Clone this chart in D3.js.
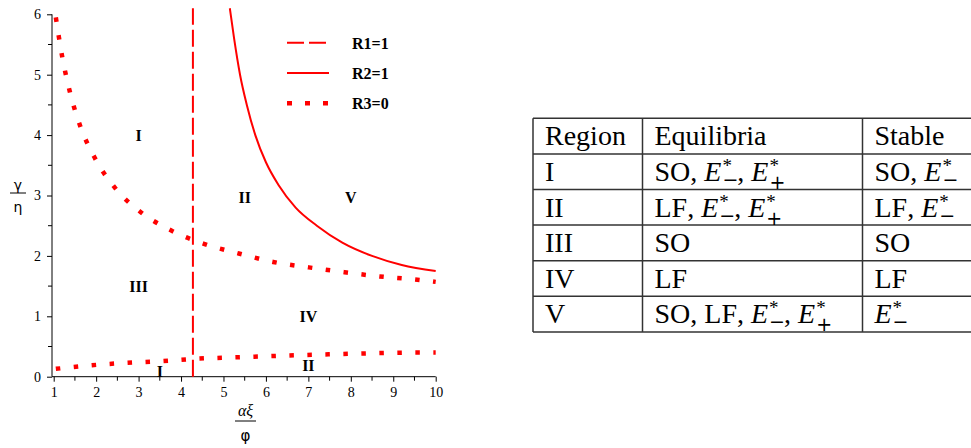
<!DOCTYPE html>
<html>
<head>
<meta charset="utf-8">
<script src="https://cdn.jsdelivr.net/npm/d3@7"></script>
<style>
  body { margin: 0; background: #fff; }
  .region { font-family: "Liberation Serif", serif; font-weight: bold; font-size: 16px; }
  .legend text { font-family: "Liberation Serif", serif; font-weight: bold; font-size: 16px; }
  .cell { font-family: "Liberation Serif", serif; font-size: 28px; white-space: pre; }
</style>
</head>
<body>
<script>
// curves (x = alpha*xi/phi, y = gamma/eta)
const r1X = 4.28;
const r1Y = [0, 6.1];

const r2X = [5.15, 5.25, 5.39, 5.55, 5.75, 6.0, 6.3, 6.7, 7.2, 7.8, 8.5, 9.2, 10];
const r2Y = [6.1, 5.6, 5.0, 4.5, 4.0, 3.55, 3.17, 2.8, 2.5, 2.22, 2.0, 1.85, 1.75];

const r3UpperX = [1.05, 1.2, 1.38, 1.62, 1.97, 2.44, 3.06, 3.77, 4.54, 5.36, 6.17, 7.01, 7.85, 8.68, 9.51, 10];
const r3UpperY = [5.95, 5.3, 4.72, 4.16, 3.62, 3.13, 2.72, 2.42, 2.2, 2.04, 1.9, 1.81, 1.73, 1.66, 1.61, 1.57];

const r3LowerX = [1.05, 1.9, 2.73, 3.58, 4.42, 5.26, 6.1, 6.94, 7.79, 8.63, 9.46, 10];
const r3LowerY = [0.13, 0.19, 0.23, 0.26, 0.30, 0.32, 0.34, 0.36, 0.376, 0.39, 0.40, 0.40];

const legendLabels = ["R1=1", "R2=1", "R3=0"];

// region labels placed in data coordinates
const regionNames = ["I", "II", "V", "III", "IV", "I", "II"];
const regionX = [3.0, 5.5, 8.0, 3.0, 7.0, 3.5, 7.0];
const regionY = [4.0, 2.97, 2.97, 1.5, 1.0, 0.1, 0.2];

// table
const tableHeader = ["Region", "Equilibria", "Stable"];
const tableRegions = ["I", "II", "III", "IV", "V"];
const tableEquilibria = [["SO", "E-", "E+"], ["LF", "E-", "E+"], ["SO"], ["LF"], ["SO", "LF", "E-", "E+"]];
const tableStable = [["SO", "E-"], ["LF", "E-"], ["SO"], ["LF"], ["E-"]];

let svg = null;
let x, y = null; // scales

appendSvg("body");
setupScales();
appendAxes();
appendAxisTitles();
appendCurves();
appendRegionLabels();
appendLegend();
appendTable();

function appendSvg(domElement) {
  svg = d3.select(domElement).append("svg")
    .attr("width", 971)
    .attr("height", 448);
}

function setupScales() {
  x = d3.scaleLinear().domain([0.96, 10]).range([52, 435.7]);
  y = d3.scaleLinear().domain([0, 6]).range([376.7, 14.3]);
}

function styleTicks(axis) {
  axis.attr("font-family", "Liberation Serif").attr("font-size", 14);
  axis.selectAll(".tick text").style("font-family", "Liberation Serif").style("font-size", "14px");
}

function appendAxes() {
  const xAxis = svg.append("g")
    .attr("transform", `translate(0, ${y(0)})`)
    .call(d3.axisBottom(x).tickValues(d3.range(1, 11)).tickFormat(d3.format("d"))
      .tickSizeOuter(0).tickSize(5).tickPadding(5));
  xAxis.select(".domain").attr("d", `M${x(0.96)},0H${x(10)}`);
  styleTicks(xAxis);

  // minor ticks
  xAxis.selectAll(".minor").data(d3.range(1.5, 10, 1)).join("line")
    .attr("class", "minor")
    .attr("x1", d => x(d)).attr("x2", d => x(d))
    .attr("y1", 0).attr("y2", 4)
    .attr("stroke", "#000");

  const yAxis = svg.append("g")
    .attr("transform", `translate(${x(0.96)}, 0)`)
    .call(d3.axisLeft(y).tickValues(d3.range(0, 7)).tickFormat(d3.format("d"))
      .tickSizeOuter(0).tickSize(5).tickPadding(6));
  yAxis.select(".domain").attr("d", `M0,${y(0)}V${y(6)}`);
  styleTicks(yAxis);

  yAxis.selectAll(".minor").data(d3.range(0.5, 6, 1)).join("line")
    .attr("class", "minor")
    .attr("y1", d => y(d)).attr("y2", d => y(d))
    .attr("x1", 0).attr("x2", -4)
    .attr("stroke", "#000");
}

function appendAxisTitles() {
  // gamma / eta
  svg.append("text").attr("x", 18).attr("y", 190).attr("text-anchor", "middle")
    .style("font-family", "DejaVu Sans").style("font-size", "14px").text("γ");
  svg.append("line").attr("x1", 10).attr("x2", 26).attr("y1", 193).attr("y2", 193)
    .attr("stroke", "#000");
  svg.append("text").attr("x", 18).attr("y", 212).attr("text-anchor", "middle")
    .style("font-family", "DejaVu Sans").style("font-size", "14px").text("η");

  // alpha xi / phi
  svg.append("text").attr("x", 245.5).attr("y", 416).attr("text-anchor", "middle")
    .style("font-family", "Liberation Serif").style("font-style", "italic")
    .style("font-size", "16px").text("αξ");
  svg.append("line").attr("x1", 235).attr("x2", 256).attr("y1", 421).attr("y2", 421)
    .attr("stroke", "#000");
  svg.append("text").attr("x", 245.5).attr("y", 441).attr("text-anchor", "middle")
    .style("font-family", "DejaVu Sans").style("font-size", "15px").text("φ");
}

function appendCurves() {
  const line = d3.line()
    .x(d => x(d[0]))
    .y(d => y(d[1]))
    .curve(d3.curveMonotoneX);

  // R1 = 1, vertical dashed
  svg.append("line")
    .attr("x1", x(r1X)).attr("x2", x(r1X))
    .attr("y1", y(r1Y[0])).attr("y2", y(r1Y[1]))
    .attr("stroke", "#ff0000").attr("stroke-width", 2)
    .attr("stroke-dasharray", "17,5");

  // R2 = 1, solid
  svg.append("path")
    .datum(d3.zip(r2X, r2Y))
    .attr("fill", "none").attr("stroke", "#ff0000").attr("stroke-width", 2)
    .attr("d", line);

  // R3 = 0, dotted (two branches)
  [d3.zip(r3UpperX, r3UpperY), d3.zip(r3LowerX, r3LowerY)].forEach(pts => {
    svg.append("path")
      .datum(pts)
      .attr("fill", "none").attr("stroke", "#ff0000").attr("stroke-width", 4.5)
      .attr("stroke-dasharray", "4.5,13.5")
      .attr("d", line);
  });
}

function appendRegionLabels() {
  svg.selectAll(".region").data(regionNames).join("text")
    .attr("class", "region")
    .attr("x", (d, i) => x(regionX[i]))
    .attr("y", (d, i) => y(regionY[i]) + 6)
    .attr("text-anchor", "middle")
    .text(d => d);
}

function appendLegend() {
  const g = svg.append("g").attr("class", "legend");
  const styles = [
    {width: 2, dash: "17,5"},
    {width: 2, dash: null},
    {width: 4.5, dash: "5,13"}
  ];
  legendLabels.forEach((label, i) => {
    const ly = 42.7 + i * 30.3;
    g.append("line")
      .attr("x1", 287).attr("x2", 329).attr("y1", ly).attr("y2", ly)
      .attr("stroke", "#ff0000").attr("stroke-width", styles[i].width)
      .attr("stroke-dasharray", styles[i].dash);
    g.append("text").attr("x", 352).attr("y", ly + 6).text(label);
  });
}

// writes one table cell, E- / E+ become E with star superscript and sign subscript
function writeCell(parts, x0, baseline) {
  let cx = x0;
  parts.forEach((p, i) => {
    if (i > 0) {
      const sep = svg.append("text").attr("class", "cell").attr("x", cx).attr("y", baseline).text(",");
      cx += sep.node().getComputedTextLength() + 7;
    }
    if (p === "E-" || p === "E+") {
      const e = svg.append("text").attr("class", "cell").attr("x", cx).attr("y", baseline)
        .style("font-style", "italic").text("E");
      cx += e.node().getComputedTextLength() + 1;
      svg.append("text").attr("x", cx).attr("y", baseline - 9)
        .style("font-family", "Liberation Serif").style("font-size", "19px").text("*");
      const sub = svg.append("text").attr("x", cx).attr("y", baseline + (p === "E-" ? 5 : 8))
        .style("font-family", "DejaVu Sans").style("font-size", "19px")
        .text(p === "E-" ? "−" : "+");
      cx += Math.max(sub.node().getComputedTextLength(), 10) - 1;
    } else {
      const t = svg.append("text").attr("class", "cell").attr("x", cx).attr("y", baseline).text(p);
      cx += t.node().getComputedTextLength();
    }
  });
}

function appendTable() {
  const colX = [533, 642.5, 862.5, 1010];
  const rowY = d3.range(7).map(i => 118.3 + i * 35.6);
  const g = svg.append("g");

  rowY.forEach(ry => {
    g.append("line").attr("x1", colX[0]).attr("x2", colX[3]).attr("y1", ry).attr("y2", ry)
      .attr("stroke", "#333").attr("stroke-width", 1.5);
  });
  colX.forEach(cx => {
    g.append("line").attr("x1", cx).attr("x2", cx).attr("y1", rowY[0]).attr("y2", rowY[6])
      .attr("stroke", "#333").attr("stroke-width", 1.5);
  });

  tableHeader.forEach((h, j) => writeCell([h], colX[j] + 12, rowY[0] + 27));
  tableRegions.forEach((r, i) => {
    const base = rowY[i + 1] + 27;
    writeCell([r], colX[0] + 12, base);
    writeCell(tableEquilibria[i], colX[1] + 12, base);
    writeCell(tableStable[i], colX[2] + 12, base);
  });
}
</script>
</body>
</html>
